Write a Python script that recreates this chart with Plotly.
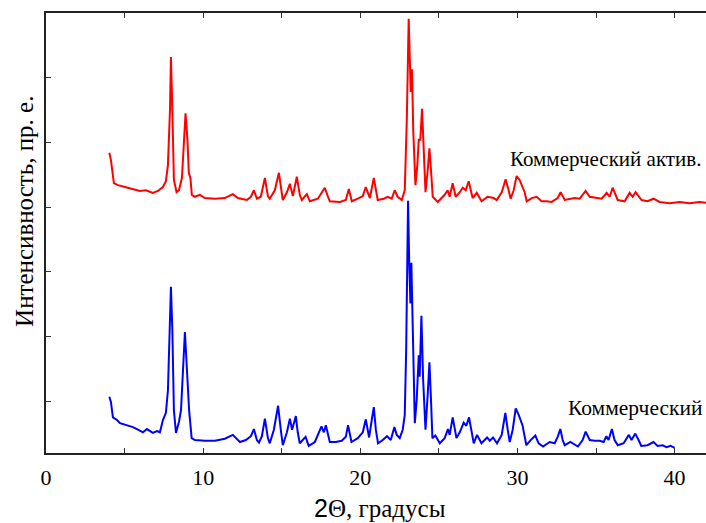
import plotly.graph_objects as go

# 2theta (degrees) and intensity (arb. units)
red_x = [4.03, 4.13, 4.32, 4.58, 5.02, 5.53, 5.98, 6.36, 6.80, 7.12, 7.44, 7.63, 7.76, 7.89, 7.95, 8.04,
         8.14, 8.31, 8.46, 8.65, 8.78, 8.88, 9.0, 9.09, 9.19, 9.28, 9.47, 9.79, 10.11, 10.75, 11.38, 11.89,
         12.21, 12.78, 13.04, 13.23, 13.42, 13.67, 13.93, 14.12, 14.24, 14.56, 14.82, 15.07, 15.33, 15.52,
         15.71, 15.96, 16.15, 16.28, 16.60, 16.79, 17.30, 17.55, 17.74, 17.93, 18.06, 18.70, 19.08, 19.27,
         19.46, 19.84, 20.16, 20.35, 20.61, 20.86, 21.11, 21.49, 21.75, 22.0, 22.19, 22.38, 22.64, 22.83,
         22.96, 23.08, 23.18, 23.21, 23.29, 23.37, 23.51, 23.63, 23.72, 23.82, 23.93, 24.04, 24.15, 24.29,
         24.40, 24.52, 24.61, 24.93, 25.37, 25.56, 25.69, 25.88, 26.07, 26.33, 26.52, 26.71, 26.90, 27.15,
         27.41, 27.72, 28.1, 28.49, 28.68, 29.0, 29.25, 29.44, 29.57, 29.76, 29.95, 30.14, 30.33, 30.46,
         30.59, 30.91, 31.22, 31.54, 31.86, 32.18, 32.56, 32.75, 33.01, 33.32, 33.64, 33.96, 34.34, 34.6,
         34.98, 35.36, 35.68, 35.87, 36.06, 36.38, 36.82, 37.14, 37.33, 37.52, 37.90, 38.28, 38.66, 39.05,
         39.68, 40.32, 40.95, 41.59, 42.3]
red_y = [4.84, 4.73, 4.37, 4.34, 4.31, 4.28, 4.25, 4.26, 4.22, 4.25, 4.31, 4.40, 4.65, 5.50, 6.32, 5.50,
         4.42, 4.23, 4.26, 4.45, 5.04, 5.45, 5.04, 4.53, 4.45, 4.19, 4.16, 4.19, 4.14, 4.13, 4.14, 4.20,
         4.14, 4.11, 4.16, 4.26, 4.13, 4.16, 4.45, 4.17, 4.13, 4.26, 4.53, 4.11, 4.23, 4.36,
         4.17, 4.47, 4.19, 4.11, 4.20, 4.09, 4.13, 4.23, 4.30, 4.17, 4.09, 4.08, 4.11, 4.28,
         4.09, 4.13, 4.17, 4.31, 4.14, 4.45, 4.11, 4.13, 4.16, 4.13, 4.26, 4.16, 4.11, 4.26,
         5.35, 6.91, 6.27, 5.78, 6.13, 5.19, 4.34, 4.65, 5.04, 5.04, 5.52, 4.73, 4.23, 4.57,
         4.91, 4.50, 4.16, 4.08, 4.19, 4.26, 4.16, 4.37, 4.16, 4.23, 4.30, 4.26, 4.40, 4.14,
         4.22, 4.09, 4.16, 4.14, 4.11, 4.23, 4.43, 4.26, 4.13, 4.26, 4.48, 4.42, 4.31, 4.23,
         4.09, 4.14, 4.16, 4.09, 4.09, 4.08, 4.14, 4.23, 4.11, 4.13, 4.14, 4.13, 4.25, 4.16,
         4.14, 4.13, 4.22, 4.16, 4.30, 4.11, 4.09, 4.22, 4.16, 4.23, 4.11, 4.09, 4.13, 4.08,
         4.06, 4.08, 4.06, 4.08, 4.06]

blue_x = [4.03, 4.13, 4.26, 4.52, 4.71, 5.09, 5.53, 5.85, 6.17, 6.42, 6.80, 7.06, 7.25, 7.44, 7.63, 7.76,
          7.89, 7.95, 8.04, 8.14, 8.27, 8.46, 8.59, 8.71, 8.84, 8.97, 9.11, 9.27, 9.48, 10.11, 10.75, 11.38,
          11.89, 12.34, 12.72, 13.04, 13.23, 13.42, 13.55, 13.74, 13.93, 14.12, 14.24, 14.50, 14.77, 14.94,
          15.07, 15.33, 15.52, 15.66, 15.90, 16.02, 16.15, 16.52, 16.72, 17.11, 17.36, 17.53, 17.68, 17.81,
          18.06, 18.44, 18.82, 19.08, 19.22, 19.44, 19.84, 20.16, 20.35, 20.56, 20.73, 20.86, 20.99, 21.13,
          21.43, 21.70, 21.94, 22.17, 22.32, 22.51, 22.70, 22.83, 22.92, 23.04, 23.11, 23.19, 23.25, 23.34,
          23.47, 23.59, 23.72, 23.78, 23.89, 24.0, 24.15, 24.29, 24.40, 24.50, 24.59, 24.78, 25.06, 25.37,
          25.58, 25.69, 25.88, 26.12, 26.33, 26.58, 26.75, 26.92, 27.09, 27.22, 27.43, 27.71, 28.07, 28.24,
          28.45, 28.70, 29.0, 29.23, 29.38, 29.51, 29.70, 29.89, 30.08, 30.32, 30.57, 30.84, 31.14, 31.35,
          31.63, 32.05, 32.37, 32.56, 32.73, 32.88, 33.01, 33.37, 33.85, 34.15, 34.34, 34.60, 34.91, 35.23,
          35.49, 35.66, 35.80, 36.01, 36.18, 36.39, 36.76, 37.09, 37.26, 37.50, 37.71, 37.88, 38.28, 38.66,
          38.92, 39.24, 39.49, 39.75, 40.0]
blue_y = [1.07, 0.99, 0.75, 0.71, 0.66, 0.63, 0.60, 0.56, 0.52, 0.57, 0.51, 0.54, 0.52, 0.71, 0.82, 1.17,
          2.10, 2.77, 2.10, 0.86, 0.51, 0.68, 0.86, 1.48, 2.07, 1.48, 0.85, 0.43, 0.40, 0.39, 0.39, 0.42,
          0.48, 0.37, 0.40, 0.46, 0.57, 0.40, 0.36, 0.46, 0.73, 0.43, 0.35, 0.56, 0.93, 0.56,
          0.32, 0.52, 0.73, 0.56, 0.77, 0.52, 0.35, 0.45, 0.31, 0.37, 0.52, 0.61, 0.52, 0.63,
          0.37, 0.37, 0.39, 0.45, 0.63, 0.37, 0.43, 0.52, 0.72, 0.44, 0.71, 0.91, 0.56, 0.35,
          0.40, 0.46, 0.40, 0.60, 0.48, 0.43, 0.56, 0.79, 1.79, 4.10, 3.18, 2.51, 3.14, 1.95,
          0.66, 1.02, 1.71, 1.38, 2.32, 1.33, 0.56, 1.10, 1.60, 1.02, 0.43, 0.47, 0.35, 0.43,
          0.57, 0.48, 0.75, 0.43, 0.52, 0.67, 0.62, 0.75, 0.48, 0.35, 0.48, 0.35, 0.44, 0.39,
          0.44, 0.35, 0.48, 0.82, 0.56, 0.37, 0.56, 0.89, 0.79, 0.63, 0.32, 0.40, 0.47, 0.35,
          0.30, 0.37, 0.35, 0.45, 0.57, 0.40, 0.32, 0.37, 0.30, 0.40, 0.53, 0.40, 0.39, 0.39,
          0.37, 0.46, 0.40, 0.57, 0.40, 0.32, 0.35, 0.48, 0.40, 0.50, 0.40, 0.31, 0.32, 0.37,
          0.31, 0.32, 0.29, 0.31, 0.28]

x_ticks = [0, 10, 20, 30, 40]
y_ticks = [1, 2, 3, 4, 5, 6]
red_label = "Коммерческий актив."
blue_label = "Коммерческий"
x_title = '<span style="font-family:Liberation Sans">2</span>Θ, градусы'
y_title = "Интенсивность, пр. е."

FONT = "Liberation Serif"

fig = go.Figure()
fig.add_trace(go.Scatter(x=red_x, y=red_y, mode="lines",
                         line=dict(color="#ff0000", width=2), showlegend=False))
fig.add_trace(go.Scatter(x=blue_x, y=blue_y, mode="lines",
                         line=dict(color="#0000ff", width=2), showlegend=False))

fig.add_annotation(x=29.38, y=4.74, xref="x", yref="y", text=red_label, showarrow=False,
                   xanchor="left", yanchor="middle", font=dict(family=FONT, size=21, color="black"))
fig.add_annotation(x=33.1, y=0.90, xref="x", yref="y", text=blue_label, showarrow=False,
                   xanchor="left", yanchor="middle", font=dict(family=FONT, size=21.5, color="black"))
fig.add_annotation(x=-0.032, y=0.55, xref="paper", yref="paper", text=y_title, showarrow=False,
                   textangle=-90, xanchor="center", yanchor="middle",
                   font=dict(family=FONT, size=25, color="black"))
fig.add_annotation(x=0.506, y=-0.125, xref="paper", yref="paper", text=x_title, showarrow=False,
                   xanchor="center", yanchor="middle",
                   font=dict(family=FONT, size=25, color="black"))

fig.update_layout(
    width=706, height=523,
    margin=dict(l=46, r=0, t=13, b=70),
    paper_bgcolor="white", plot_bgcolor="white",
    font=dict(family=FONT, size=21, color="black"),
    xaxis=dict(range=[0, 42], tickvals=x_ticks, ticktext=[str(v) for v in x_ticks],
               ticks="inside", ticklen=5, tickwidth=1, tickcolor="#333",
               minor=dict(dtick=5, tick0=0, ticks="inside", ticklen=5, tickwidth=1, tickcolor="#333"),
               showline=True, linewidth=2, linecolor="#222", mirror="allticks",
               ticklabelstandoff=4,
               showgrid=False, zeroline=False, tickfont=dict(family=FONT, size=22, color="black")),
    yaxis=dict(range=[0.2, 7.0], tickvals=y_ticks, showticklabels=False,
               ticks="inside", ticklen=5, tickwidth=1, tickcolor="#333",
               showline=True, linewidth=2, linecolor="#222",
               showgrid=False, zeroline=False),
)

fig.write_html("out.html")
